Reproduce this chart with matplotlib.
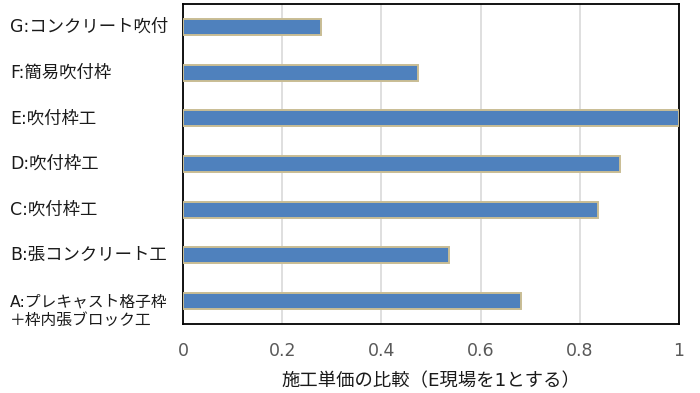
import matplotlib
matplotlib.use("Agg")
import matplotlib.pyplot as plt
import matplotlib.transforms as mtransforms

plt.rcParams['font.family'] = ['DejaVu Sans', 'Noto Sans CJK JP']

categories = ["A:プレキャスト格子枠\n＋枠内張ブロック工", "B:張コンクリート工", "C:吹付枠工", "D:吹付枠工",
              "E:吹付枠工", "F:簡易吹付枠", "G:コンクリート吹付"]
values = [0.681, 0.536, 0.837, 0.882, 1.0, 0.474, 0.278]
xticks = [0, 0.2, 0.4, 0.6, 0.8, 1]
xticklabels = ["0", "0.2", "0.4", "0.6", "0.8", "1"]
xlabel = "施工単価の比較（E現場を1とする）"

fig = plt.figure(figsize=(7, 3.93), dpi=100)
ax = fig.add_axes([183/700, 1-324/393, (679-183)/700, 320/393])

ypos = list(range(len(categories)))
ax.barh(ypos, values, height=0.35, color='#4F81BD', edgecolor='#C9BD94', linewidth=1.4, zorder=3)
ax.set_xlim(0, 1)
ax.set_ylim(-0.5, len(categories) - 0.5)
ax.set_xticks(xticks)
ax.set_xticklabels(xticklabels, fontsize=12.5, color='#595959')
ax.tick_params(axis='x', length=0, pad=13)
ax.set_yticks([])
ax.grid(axis='x', color='#D9D9D9', linewidth=1.2, zorder=0)
for s in ax.spines.values():
    s.set_color('black')
    s.set_linewidth(1.3)
ax.set_xlabel(xlabel, fontsize=13.2, labelpad=9, color='#1a1a1a')

trans = mtransforms.blended_transform_factory(fig.transFigure, ax.transData)
for i, lab in enumerate(categories):
    y = i
    fs = 12.5
    if "\n" in lab:
        y = i - 0.22
        fs = 11.3
    ax.text(10/700, y, lab, transform=trans, ha='left', va='center', fontsize=fs,
            linespacing=1.25, color='#1a1a1a')

fig.savefig("out.png", dpi=100)
